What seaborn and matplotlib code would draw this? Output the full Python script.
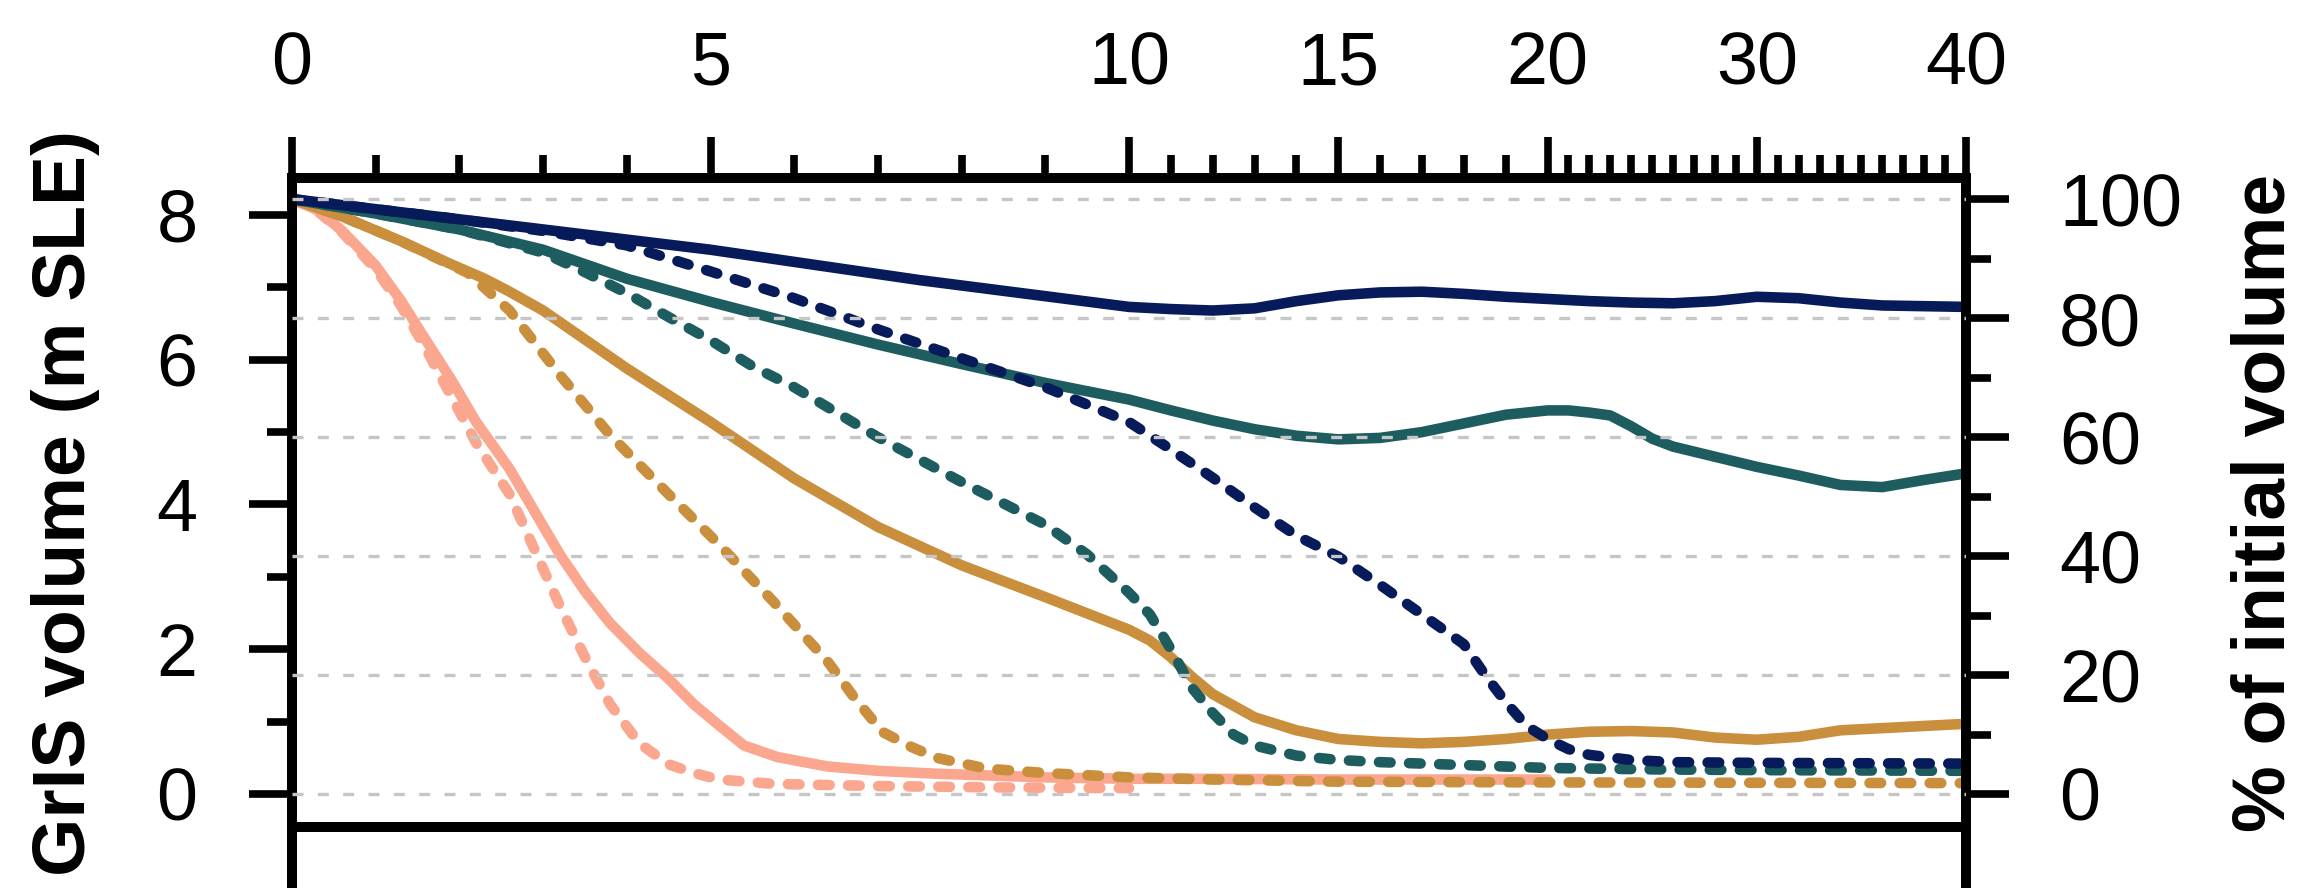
import numpy as np
import pandas as pd
import matplotlib
matplotlib.use("Agg")
import matplotlib.pyplot as plt
import seaborn as sns

V0 = 8.22  # initial GrIS volume (m SLE) -> 100 %

# navy run
navy_solid_x = [0, 2.5, 5, 7.5, 10, 11, 12, 13, 14, 15, 16, 17, 18, 19, 20, 22, 24, 26, 28, 30, 32, 34, 36, 38, 40]
navy_solid_v = [8.22, 7.87, 7.52, 7.10, 6.73, 6.70, 6.68, 6.71, 6.81, 6.89, 6.93, 6.94, 6.91, 6.87, 6.84,
                6.81, 6.79, 6.78, 6.81, 6.87, 6.85, 6.79, 6.75, 6.74, 6.73]
navy_dash_x = [0, 1, 2, 3, 4, 5, 6, 7, 8, 9, 10, 11, 12, 13, 14, 15, 16, 17, 18, 18.5, 19, 19.5, 20, 21, 22, 24, 26, 30, 40]
navy_dash_v = [8.22, 8.08, 7.94, 7.78, 7.58, 7.22, 6.85, 6.42, 6.02, 5.62, 5.14, 4.76, 4.37, 3.96, 3.57, 3.28,
               2.89, 2.48, 2.07, 1.65, 1.27, 0.94, 0.76, 0.62, 0.54, 0.47, 0.44, 0.43, 0.42]

# teal run
teal_solid_x = [0, 1, 2, 3, 4, 5, 6, 7, 8, 9, 10, 11, 12, 13, 14, 15, 16, 17, 18, 19, 20, 21, 22, 23, 24, 25, 26,
                28, 30, 32, 34, 36, 38, 40]
teal_solid_v = [8.22, 8.02, 7.80, 7.52, 7.12, 6.80, 6.50, 6.21, 5.94, 5.68, 5.45, 5.30, 5.16, 5.04, 4.95, 4.90,
                4.92, 5.00, 5.12, 5.24, 5.30, 5.30, 5.27, 5.23, 5.08, 4.91, 4.80, 4.66, 4.52, 4.40, 4.27, 4.24,
                4.34, 4.43]
teal_dash_x = [0, 1, 2, 3, 3.5, 4, 4.5, 5, 5.5, 6, 7, 8, 9, 9.5, 10, 10.5, 11, 11.5, 12, 12.5, 13, 14, 15, 16,
               18, 20, 25, 30, 40]
teal_dash_v = [8.22, 8.02, 7.80, 7.48, 7.21, 6.92, 6.59, 6.27, 5.91, 5.62, 4.93, 4.31, 3.72, 3.31, 2.78, 2.48,
               2.00, 1.47, 1.12, 0.82, 0.67, 0.53, 0.47, 0.44, 0.40, 0.36, 0.34, 0.33, 0.32]

# gold run
gold_solid_x = [0, 0.6, 1.3, 1.9, 2.3, 2.6, 3, 3.5, 4, 5, 6, 7, 8, 9, 10, 10.5, 11, 11.5, 12, 13, 14, 15, 16, 17,
                18, 19, 20, 22, 24, 26, 28, 30, 32, 34, 36, 38, 40]
gold_solid_v = [8.22, 7.98, 7.64, 7.32, 7.12, 6.94, 6.68, 6.28, 5.88, 5.14, 4.36, 3.69, 3.16, 2.72, 2.27, 2.12,
                1.89, 1.62, 1.38, 1.06, 0.88, 0.76, 0.72, 0.70, 0.72, 0.76, 0.82, 0.86, 0.87, 0.85, 0.78, 0.75,
                0.79, 0.88, 0.91, 0.94, 0.97]
gold_dash_x = [0, 0.6, 1.3, 2.1, 2.6, 3.2, 3.8, 4.5, 5.1, 5.75, 6.4, 6.7, 7.05, 7.4, 7.7, 8.3, 9, 10, 12, 15, 20,
               40]
gold_dash_v = [8.22, 7.98, 7.64, 7.20, 6.68, 5.79, 4.96, 4.14, 3.45, 2.66, 1.83, 1.36, 0.86, 0.65, 0.50, 0.35,
               0.29, 0.23, 0.20, 0.17, 0.16, 0.15]

# salmon run
salmon_solid_x = [0, 0.3, 0.6, 1.0, 1.3, 1.6, 1.9, 2.2, 2.6, 2.9, 3.2, 3.5, 3.8, 4.15, 4.5, 4.8, 5.1, 5.4, 5.8,
                  6.4, 7.0, 7.7, 9, 10, 12, 15, 20]
salmon_solid_v = [8.22, 8.07, 7.78, 7.30, 6.82, 6.27, 5.73, 5.14, 4.49, 3.90, 3.31, 2.80, 2.36, 1.95, 1.59, 1.24,
                  0.95, 0.67, 0.51, 0.38, 0.32, 0.28, 0.23, 0.21, 0.21, 0.20, 0.20]
salmon_dash_x = [0, 0.3, 0.6, 1.0, 1.3, 1.6, 1.9, 2.2, 2.6, 2.9, 3.2, 3.5, 3.8, 4.15, 4.5, 4.8, 5.1, 5.75, 7.0,
                 8.5, 10]
salmon_dash_v = [8.22, 8.06, 7.76, 7.25, 6.75, 6.15, 5.50, 4.85, 4.14, 3.37, 2.60, 1.89, 1.24, 0.70, 0.41, 0.29,
                 0.20, 0.14, 0.11, 0.09, 0.08]

runs = ["salmon", "gold", "teal", "navy"]  # drawing order, bottom to top
run_colors = {"navy": "#071a5a", "teal": "#1e5d5f", "gold": "#c98f3d", "salmon": "#fba68e"}

xtick_vals = [0, 5, 10, 15, 20, 30, 40]
xtick_labels = ["0", "5", "10", "15", "20", "30", "40"]
ytick_vals = [0, 2, 4, 6, 8]
pct_tick_vals = [0, 20, 40, 60, 80, 100]

series = {
    ("navy", "solid"): (navy_solid_x, navy_solid_v), ("navy", "dashed"): (navy_dash_x, navy_dash_v),
    ("teal", "solid"): (teal_solid_x, teal_solid_v), ("teal", "dashed"): (teal_dash_x, teal_dash_v),
    ("gold", "solid"): (gold_solid_x, gold_solid_v), ("gold", "dashed"): (gold_dash_x, gold_dash_v),
    ("salmon", "solid"): (salmon_solid_x, salmon_solid_v), ("salmon", "dashed"): (salmon_dash_x, salmon_dash_v),
}
df = pd.concat([pd.DataFrame({"x": xs, "v": vs, "run": r, "kind": k}) for (r, k), (xs, vs) in series.items()],
               ignore_index=True)


# piecewise-linear x axis: 0-10 gets half the width, 10-20 and 20-40 a quarter each
def fwd(x):
    x = np.asarray(x, float)
    return np.where(x <= 10, x, np.where(x <= 20, 10 + (x - 10) / 2, 15 + (x - 20) / 4))


def inv(u):
    u = np.asarray(u, float)
    return np.where(u <= 10, u, np.where(u <= 15, 10 + (u - 10) * 2, 20 + (u - 15) * 4))


sns.set_style("ticks")
plt.rcParams["font.family"] = ["Liberation Sans", "DejaVu Sans"]
plt.rcParams.update({"text.color": "black", "axes.labelcolor": "black",
                     "xtick.color": "black", "ytick.color": "black"})

fig = plt.figure(figsize=(23, 8.88), dpi=100)
ax = fig.add_axes([0.12696, 0.06869, 0.72783, 0.73086])
ax.set_xscale("function", functions=(fwd, inv))

LW = 7.6
sns.lineplot(data=df, x="x", y="v", hue="run", style="kind", hue_order=runs, style_order=["solid", "dashed"],
             palette=run_colors, dashes={"solid": "", "dashed": (1.1, 1.75)}, estimator=None, sort=True,
             legend=False, linewidth=LW, ax=ax)
for line in ax.lines:
    line.set_linewidth(LW)
    line.set_dash_capstyle("round")
    line.set_solid_capstyle("round")
    line.set_solid_joinstyle("round")

ylo, yhi = -0.456, 8.511
ax.set_xlim(0, 40)
ax.set_ylim(ylo, yhi)
ax.set_xlabel("")
ax.grid(False)

ax2 = ax.twinx()
ax2.set_ylim(ylo / V0 * 100, yhi / V0 * 100)
ax2.grid(False)
ax2.grid(axis="y", which="major", color="#c6c6c6", lw=2.4, ls=(0, (3.3, 4.3)))
for s in ax2.spines.values():
    s.set_visible(False)

# spines: heavy box, side spines run on below the panel
for name in ["left", "right", "top", "bottom"]:
    ax.spines[name].set_visible(True)
    ax.spines[name].set_linewidth(7.2)
    ax.spines[name].set_color("black")
ax.spines["left"].set_bounds(-1.5, yhi)
ax.spines["right"].set_bounds(-1.5, yhi)

ax.xaxis.tick_top()
ax.set_xticks(xtick_vals)
ax.set_xticklabels(xtick_labels)
ax.set_xticks(range(0, 41), minor=True)
ax.tick_params(axis="x", which="major", direction="out", length=29.5, width=5.5, pad=27, labelsize=53,
               top=True, bottom=False, labeltop=True, labelbottom=False)
ax.tick_params(axis="x", which="minor", direction="out", length=16.5, width=5.5, top=True, bottom=False)

ax.set_yticks(ytick_vals)
ax.set_yticks([1, 3, 5, 7], minor=True)
ax.tick_params(axis="y", which="major", direction="out", length=31, width=5.5, pad=37, labelsize=53,
               left=True, right=False)
ax.tick_params(axis="y", which="minor", direction="out", length=18, width=5.5, left=True, right=False)

ax2.set_yticks(pct_tick_vals)
ax2.set_yticks([10, 30, 50, 70, 90], minor=True)
ax2.tick_params(axis="y", which="major", direction="out", length=31, width=5.5, pad=36, labelsize=53,
                right=True, left=False)
ax2.tick_params(axis="y", which="minor", direction="out", length=18, width=5.5, right=True, left=False)

ax.set_ylabel("GrIS volume (m SLE)", fontsize=54, fontweight="bold")
ax.yaxis.set_label_coords(-0.1147, 0.5)
ax2.set_ylabel("% of initial volume", fontsize=54, fontweight="bold")
ax2.yaxis.set_label_coords(1.1577, 0.5)

fig.savefig("out.png", dpi=100)
